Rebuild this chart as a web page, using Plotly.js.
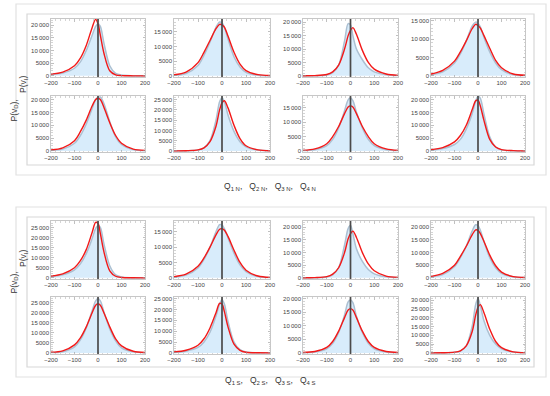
<!DOCTYPE html>
<html><head><meta charset="utf-8">
<script src="https://cdn.plot.ly/plotly-3.0.1.min.js"></script>
<style>html,body{margin:0;padding:0;background:#fff}#c{width:550px;height:396px}</style>
</head><body><div id="c"></div>
<script>
// velocity grid (km/s)
const vel = [-200,-150,-100,-75,-50,-25,-10,0,10,25,50,75,100,150,200];

// North block (Q1N..Q4N), row 1 = P(v_I), row 2 = P(v_D)
const obsN1 = [500,1100,3000,5500,10000,16000,19500,20500,19500,13000,4000,1000,300,50,0];
const fitN1 = [700,1500,4000,7000,12000,19000,22300,20500,16000,9000,2000,400,100,10,0];
const obsN2 = [200,800,3500,7000,11500,16500,18300,18000,16500,12500,6500,3000,1200,200,50];
const fitN2 = [400,1300,4500,8000,12000,16000,17500,17300,16500,13500,8000,4000,1800,400,100];
const obsN3 = [20,50,300,1200,4000,13000,19500,19000,15000,10000,6000,3000,1500,400,100];
const fitN3 = [50,100,500,1500,4000,10000,15000,17000,18000,15500,9500,5000,2500,700,200];
const obsN4 = [300,1100,3500,6000,9500,13500,14600,14300,13300,10500,6500,3500,1700,300,80];
const fitN4 = [500,1500,4000,6500,9500,12800,14000,13700,13000,11000,7500,4200,2200,500,150];
const obsN5 = [200,700,3000,6000,10500,16500,20000,20800,21000,18500,11500,5500,2500,500,100];
const fitN5 = [400,1200,4000,7500,12000,17500,20000,20500,20000,17000,11000,6000,3000,700,200];
const obsN6 = [20,80,400,1500,5000,15000,24000,26000,24000,17500,9500,4500,2000,400,80];
const fitN6 = [30,100,500,1500,4500,12000,20000,23500,24500,21000,12500,6000,2500,500,100];
const obsN7 = [100,400,1800,4000,8000,14000,17800,18500,17500,13500,8000,4000,1800,400,100];
const fitN7 = [200,700,2500,5000,8500,13000,15300,15700,15300,13000,8500,5000,2500,700,200];
const obsN8 = [300,900,2500,4500,8500,14500,19500,21300,20500,14500,5500,1500,400,50,10];
const fitN8 = [500,1300,3500,6000,10000,16000,19500,19800,17500,12000,4500,1500,500,100,20];

// South block (Q1S..Q4S)
const obsS1 = [600,1500,4000,7000,12000,19500,24500,26000,25000,17000,6000,1500,400,50,10];
const fitS1 = [900,2000,5000,8500,14000,22500,27500,27000,22000,13000,3500,800,200,30,5];
const obsS2 = [250,900,3200,6000,10000,15000,17300,17200,16000,13000,8000,4200,2000,400,100];
const fitS2 = [400,1200,3800,6500,10000,14000,15800,16000,15500,13500,9000,5000,2500,600,150];
const obsS3 = [20,60,300,1200,4000,13000,19500,20800,17500,11500,6500,3300,1600,400,100];
const fitS3 = [30,100,500,1500,4000,10000,15500,17500,18500,16000,10000,5500,2800,700,200];
const obsS4 = [400,1300,4500,8000,12500,18500,21000,20700,18800,14500,8000,4000,1800,350,100];
const fitS4 = [600,1800,5000,8500,12500,17000,19000,18800,17500,14500,9000,4800,2300,500,150];
const obsS5 = [150,600,3000,6500,12500,21000,26000,27000,26000,20500,12000,6000,2500,500,100];
const fitS5 = [300,1000,4000,7500,13000,20000,23800,24500,23800,20000,13000,7000,3500,800,200];
const obsS6 = [200,800,2500,5000,9500,17000,22500,24500,22500,14500,5000,1500,400,50,10];
const fitS6 = [400,1200,3500,6500,11500,18500,22800,22500,19000,12000,4000,1200,300,50,10];
const obsS7 = [80,300,1500,3500,7500,14000,18800,19500,18500,13500,7500,3500,1500,300,80];
const fitS7 = [150,500,2000,4200,8000,13000,15800,16300,15800,13000,8000,4200,2000,500,150];
const obsS8 = [10,50,300,1000,4000,15000,27500,31000,27000,18500,10000,5000,2300,500,120];
const fitS8 = [20,80,400,1200,4000,12000,21500,26000,27500,23000,13500,6500,3000,600,150];

// upper limits of each panel's vertical axis
const yTop = [22400,19300,21200,15450,21400,26800,19150,21400,
              28200,18500,22500,22500,27900,25750,20600,31850];

const obsAll = [obsN1,obsN2,obsN3,obsN4,obsN5,obsN6,obsN7,obsN8,obsS1,obsS2,obsS3,obsS4,obsS5,obsS6,obsS7,obsS8];
const fitAll = [fitN1,fitN2,fitN3,fitN4,fitN5,fitN6,fitN7,fitN8,fitS1,fitS2,fitS3,fitS4,fitS5,fitS6,fitS7,fitS8];

const W = 550, H = 396;
const colPx = [[51,145],[174,270],[303,398],[431,525]];
const rowPx = [[19,77],[96,152],[221,279],[297,354]];
const px = p => p / W, py = p => 1 - p / H;

const traces = [], shapes = [], layout = {
  width: W, height: H, margin:{l:0,r:0,t:0,b:0}, showlegend:false,
  paper_bgcolor:'#fff', plot_bgcolor:'#fff', separators:'.\u2009',
  font:{family:'Liberation Sans, Arial, sans-serif', size:6, color:'#444'},
  shapes: shapes, annotations: []
};

for (let k = 0; k < 16; k++) {
  const r = Math.floor(k / 4), c = k % 4, n = k + 1;
  const xa = n === 1 ? 'x' : 'x' + n, ya = n === 1 ? 'y' : 'y' + n;
  traces.push({x: vel, y: obsAll[k], xaxis: xa, yaxis: ya, type:'scatter', mode:'lines',
    line:{shape:'spline', smoothing:0.9, color:'rgb(172,192,210)', width:1.5},
    fill:'tozeroy', fillcolor:'rgb(216,236,251)', hoverinfo:'skip'});
  traces.push({x: vel, y: fitAll[k], xaxis: xa, yaxis: ya, type:'scatter', mode:'lines',
    line:{shape:'spline', smoothing:0.9, color:'rgb(242,25,25)', width:1.4}, hoverinfo:'skip'});
  const common = {showline:true, linecolor:'rgb(185,185,185)', linewidth:0.8, mirror:'allticks',
    ticks:'inside', ticklen:2.5, tickwidth:0.6, tickcolor:'rgb(150,150,150)', showgrid:false, zeroline:false,
    tickfont:{size:6, color:'#444'}, fixedrange:true};
  layout['xaxis' + (n === 1 ? '' : n)] = Object.assign({}, common, {
    domain:[px(colPx[c][0]), px(colPx[c][1])], anchor: ya, range:[-200,200], dtick:100, tick0:0,
    minor:{ticks:'inside', ticklen:1.5, dtick:20, tickcolor:'rgb(170,170,170)', tickwidth:0.5}
  });
  layout['yaxis' + (n === 1 ? '' : n)] = Object.assign({}, common, {
    domain:[py(rowPx[r][1]), py(rowPx[r][0])], anchor: xa, range:[-yTop[k]*0.02, yTop[k]],
    dtick:5000, tick0:0, exponentformat:'none',
    minor:{ticks:'inside', ticklen:1.5, dtick:1000, tickcolor:'rgb(170,170,170)', tickwidth:0.5}
  });
  shapes.push({type:'line', xref: xa, yref: ya + ' domain', x0:0, x1:0, y0:0, y1:1,
    line:{color:'rgb(75,75,75)', width:1.7}});
}

// frames around each block
const boxes = [[16,4,546,175],[27,14,534,165],[16,207,546,377],[27,217,534,367]];
boxes.forEach((b, i) => shapes.push({type:'rect', xref:'paper', yref:'paper', layer:'below',
  x0:px(b[0]), x1:px(b[2]), y0:py(b[3]), y1:py(b[1]),
  line:{color: i % 2 ? 'rgb(215,215,215)' : 'rgb(225,225,225)', width:1.2}}));

const labFont = {family:'Liberation Sans, Arial, sans-serif', size:8.5, color:'#333'};
const ann = layout.annotations;
[[0, 'N', 98, 74, 186], [1, 'S', 296, 269, 388]].forEach(([b, s, yD, yI, yQ]) => {
  ann.push({text:'P(v<sub>D</sub>),', xref:'paper', yref:'paper', x:px(6), y:py(yD), textangle:-90,
    showarrow:false, font:labFont});
  ann.push({text:'P(v<sub>I</sub>)', xref:'paper', yref:'paper', x:px(16), y:py(yI), textangle:-90,
    showarrow:false, font:labFont});
  const qs = [1,2,3,4].map(i => 'Q<sub>' + i + ' ' + s + '</sub>' + (i < 4 ? ',' : '')).join('&nbsp;&nbsp;&nbsp;');
  ann.push({text: qs, xref:'paper', yref:'paper', x:px(270), y:py(yQ), showarrow:false, font:labFont});
});

Plotly.newPlot('c', traces, layout, {staticPlot:true});
</script>
</body></html>
